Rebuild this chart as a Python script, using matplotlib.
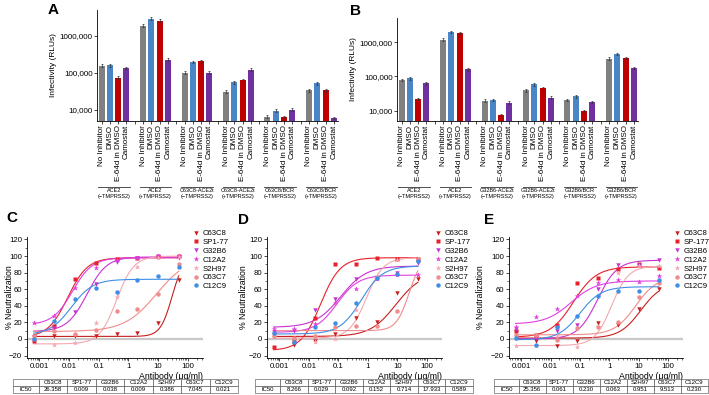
import numpy as np
import matplotlib
matplotlib.use("Agg")
import matplotlib.pyplot as plt
import matplotlib.transforms as mtrans
from matplotlib.ticker import MultipleLocator, NullLocator, LogLocator
from matplotlib.lines import Line2D

plt.rcParams['font.family'] = ['Liberation Sans', 'DejaVu Sans']
plt.rcParams['axes.linewidth'] = 0.6

# ---- bar panels (A, B) ----
conditions = ['No Inhibitor', 'DMSO', 'E-64d in DMSO', 'Camostat']
bar_colors = ['#808080', '#4a86c6', '#c00000', '#7030a0']

groups_A = ['ACE2\n(\u2212TMPRSS2)', 'ACE2\n(+TMPRSS2)',
            'C63C8-ACE2t\n(\u2212TMPRSS2)', 'C63C8-ACE2t\n(+TMPRSS2)',
            'C63C8/BCR\n(\u2212TMPRSS2)', 'C63C8/BCR\n(+TMPRSS2)']
rlu_A = [[157000, 160000, 73000, 134000],
         [1900000, 2900000, 2600000, 225000],
         [102000, 195000, 207000, 100000],
         [31000, 56000, 63000, 120000],
         [6600, 9600, 6400, 9900],
         [34000, 52000, 34000, 6000]]

groups_B = ['ACE2\n(\u2212TMPRSS2)', 'ACE2\n(+TMPRSS2)',
            'G32B6-ACE2t\n(\u2212TMPRSS2)', 'G32B6-ACE2t\n(+TMPRSS2)',
            'G32B6/BCR\n(\u2212TMPRSS2)', 'G32B6/BCR\n(+TMPRSS2)']
rlu_B = [[79000, 88000, 22000, 63000],
         [1170000, 1960000, 1830000, 162000],
         [19600, 20500, 7400, 17000],
         [39500, 59000, 45000, 24000],
         [20500, 26000, 9800, 17800],
         [326000, 455000, 347000, 177000]]

# ---- neutralization panels (C, D, E) ----
conc = [0.00064, 0.0032, 0.016, 0.08, 0.4, 2, 10, 50]
antibodies = ['C63C8', 'SP1-77', 'G32B6', 'C12A2', 'S2H97', 'C63C7', 'C12C9']
legend_C = ['C63C8', 'SP1-77', 'G32B6', 'C12A2', 'S2H97', 'C63C7', 'C12C9']
legend_DE = ['C63C8', 'SP-177', 'G32B6', 'C12A2', 'S2H97', 'C63C7', 'C12C9']
ab_markers = ['v', 's', 'v', '*', '*', 'o', 'o']
ab_colors = ['#c81e1e', '#e8202a', '#c832d0', '#e040e0', '#f5a8b0', '#f08c8c', '#3d8fe6']

neut_C = [[2, 4, 4, 4, 5.6, 7.6, 19, 71],
          [-3, 16, 72, 92, 97, 98, 100, 100],
          [2, 13, 33, 66, 93, 98, 99, 98],
          [19, 28, 62, 86, 95, 98, 100, 100],
          [0, -7, -5, 19, 51, 87, 98, 99],
          [3, 10, 6, 11, 34, 36, 54, 90],
          [0, 22, 48, 61, 57, 71, 76, 87]]
fit_C = [(3, 100, 30, 2.2), (2, 98, 0.009, 1.3), (9, 99, 0.04, 1.3),
         (17, 98, 0.013, 1.3), (-6, 100, 0.4, 1.5), (9, 100, 9, 0.8),
         (5, 72, 0.012, 1.2)]
ic50_C = ['26.358', '0.009', '0.038', '0.009', '0.386', '7.045', '0.021']

neut_D = [[5, -7, -3, 6, 25, 20, 55, 72],
          [-10, -3, 25, 91, 91, 98, 97, 97],
          [8, 10, 35, 48, 72, 73, 79, 92],
          [12, 12, 18, 43, 60, 72, 77, 77],
          [2, -4, -4, 0, 35, 76, 95, 95],
          [3, 1, 3, 15, 16, 16, 34, 97],
          [7, -4, 14, 19, 43, 73, 78, 94]]
fit_D = [(3, 80, 9, 1.0), (-14, 98, 0.025, 1.3), (14, 88, 0.12, 1.0),
         (8, 77, 0.09, 1.2), (1, 98, 0.9, 1.5), (10, 100, 25, 2.0),
         (6, 88, 0.6, 1.2)]
ic50_D = ['8.266', '0.029', '0.092', '0.152', '0.714', '17.933', '0.589']

neut_E = [[8, -3, -8, -2, 19, 17, 36, 60],
          [9, 5, 17, 68, 74, 84, 90, 85],
          [12, 1, 9, 17, 60, 89, 89, 95],
          [14, 27, 36, 52, 67, 71, 69, 76],
          [-9, -8, 3, -10, 15, 80, 88, 88],
          [5, 5, -1, 13, 14, 20, 51, 67],
          [1, -7, 15, 28, 52, 58, 58, 71]]
fit_E = [(1, 68, 12, 1.2), (2, 87, 0.06, 1.1), (0, 95, 0.4, 1.3),
         (18, 70, 0.05, 1.0), (-8, 88, 1.2, 1.5), (5, 75, 8, 1.2),
         (-1, 63, 0.1, 1.2)]
ic50_E = ['25.356', '0.061', '0.230', '0.063', '0.951', '9.513', '0.230']

W, H = 709, 395
fig = plt.figure(figsize=(W / 100, H / 100), dpi=100)


def px_axes(x0, y0, x1, y1):
    return fig.add_axes([x0 / W, 1 - y1 / H, (x1 - x0) / W, (y1 - y0) / H])


def bar_panel(ax, vals, groups, ylim):
    xs, labels = [], []
    for g, row in enumerate(vals):
        for i, v in enumerate(row):
            x = g * 5 + i
            ax.bar(x, v, width=0.72, color=bar_colors[i], zorder=2)
            ax.errorbar(x, v, yerr=[[v * 0.08], [v * 0.1]], fmt='none',
                        ecolor='#333333', elinewidth=0.5, capsize=1, capthick=0.5, zorder=3)
            xs.append(x)
            labels.append(conditions[i])
    ax.set_yscale('log')
    ax.set_ylim(*ylim)
    ax.set_yticks([1e4, 1e5, 1e6])
    ax.set_yticklabels(['10,000', '100,000', '1000,000'])
    ax.yaxis.set_minor_locator(NullLocator())
    ax.set_xticks(xs)
    ax.set_xticklabels(labels, rotation=90, fontsize=5.8)
    ax.set_xticks([g * 5 + 4 for g in range(len(vals) - 1)], minor=True)
    ax.set_xlim(-0.55, 28.5)
    ax.tick_params(axis='both', length=2, width=0.5, pad=1, labelsize=5.8)
    ax.tick_params(axis='x', which='minor', length=2, width=0.5)
    ax.set_ylabel('Infectivity (RLUs)', fontsize=6, labelpad=2)
    for s in ['top', 'right']:
        ax.spines[s].set_visible(False)
    tr = mtrans.blended_transform_factory(ax.transData, fig.transFigure)
    for g, name in enumerate(groups):
        ax.plot([g * 5 - 0.4, g * 5 + 3.4], [1 - 186.5 / H] * 2, color='#333333',
                lw=0.6, transform=tr, clip_on=False)
        ax.text(g * 5 + 1.5, 1 - 188 / H, name, transform=tr, ha='center', va='top',
                fontsize=4, linespacing=1.3)


axA = px_axes(97, 10, 338, 121)
bar_panel(axA, rlu_A, groups_A, (5000, 5e6))
axB = px_axes(397, 18, 638, 121)
bar_panel(axB, rlu_B, groups_B, (5000, 5.1e6))


def curve_panel(ax, neut, fits, leg_labels, leg_x, ylab_x):
    ax.axhline(0, color='#c8c8c8', lw=1.6, zorder=0)
    xf = np.logspace(np.log10(conc[0]), np.log10(conc[-1]), 200)
    handles = []
    for k in range(len(antibodies)):
        b, t, ec, h = fits[k]
        ax.plot(xf, b + (t - b) / (1 + (ec / xf) ** h), color=ab_colors[k], lw=0.8, zorder=2)
        ms = 4.2 if ab_markers[k] == '*' else 3.2
        ax.plot(conc, neut[k], ls='none', marker=ab_markers[k], ms=ms,
                color=ab_colors[k], mec='none', zorder=3)
        handles.append(Line2D([], [], ls='none', marker=ab_markers[k], ms=ms,
                              color=ab_colors[k], mec='none'))
    ax.set_xscale('log')
    ax.set_xlim(3.8e-4, 330)
    ax.set_ylim(-23, 123)
    ax.set_xticks([0.001, 0.01, 0.1, 1, 10, 100])
    ax.set_xticklabels(['0.001', '0.01', '0.1', '1', '10', '100'])
    ax.xaxis.set_minor_locator(LogLocator(base=10, subs=np.arange(2, 10)))
    ax.set_yticks(range(-20, 121, 20))
    ax.yaxis.set_minor_locator(MultipleLocator(10))
    ax.tick_params(axis='both', length=2.5, width=0.5, pad=1, labelsize=5.6)
    ax.tick_params(axis='both', which='minor', length=1.5, width=0.4)
    ax.set_ylabel('% Neutralization', fontsize=6.3)
    ax.yaxis.set_label_coords(ylab_x, 0.5)
    ax.set_xlabel('Antibody (\u03bcg/ml)', fontsize=6.3, labelpad=1.5, loc='right')
    for s in ['top', 'right']:
        ax.spines[s].set_visible(False)
    fig.legend(handles, leg_labels, loc='upper left',
               bbox_to_anchor=(leg_x / W, 1 - 230 / H), frameon=False,
               fontsize=5.6, handlelength=0.8, handletextpad=0.5,
               labelspacing=0.17, borderpad=0, borderaxespad=0)


def ic50_table(x0, x1, vals):
    tax = px_axes(x0, 379, x1, 393)
    tax.axis('off')
    widths = [26] + [28.5] * 7
    tbl = tax.table(cellText=[[''] + antibodies, ['IC50'] + vals], cellLoc='center',
                    colWidths=[w / sum(widths) for w in widths], bbox=[0, 0, 1, 1])
    tbl.auto_set_font_size(False)
    tbl.set_fontsize(4.3)
    for cell in tbl.get_celld().values():
        cell.set_linewidth(0.4)
        cell.set_edgecolor('#444444')


axC = px_axes(27, 237, 203, 358)
curve_panel(axC, neut_C, fit_C, legend_C, 193, -0.075)
ic50_table(13, 238, ic50_C)

axD = px_axes(267, 237, 442, 358)
curve_panel(axD, neut_D, fit_D, legend_DE, 435, -0.11)
ic50_table(255, 473, ic50_D)

axE = px_axes(509, 237, 683, 358)
curve_panel(axE, neut_E, fit_E, legend_DE, 674, -0.14)
ic50_table(494, 708, ic50_E)

for letter, x, y in [('A', 48, 10), ('B', 350, 11), ('C', 6, 218), ('D', 238, 220), ('E', 484, 220)]:
    fig.text(x / W, 1 - y / H, letter, fontsize=11, fontweight='bold', va='center', ha='left')

fig.savefig('out.png', dpi=100)
